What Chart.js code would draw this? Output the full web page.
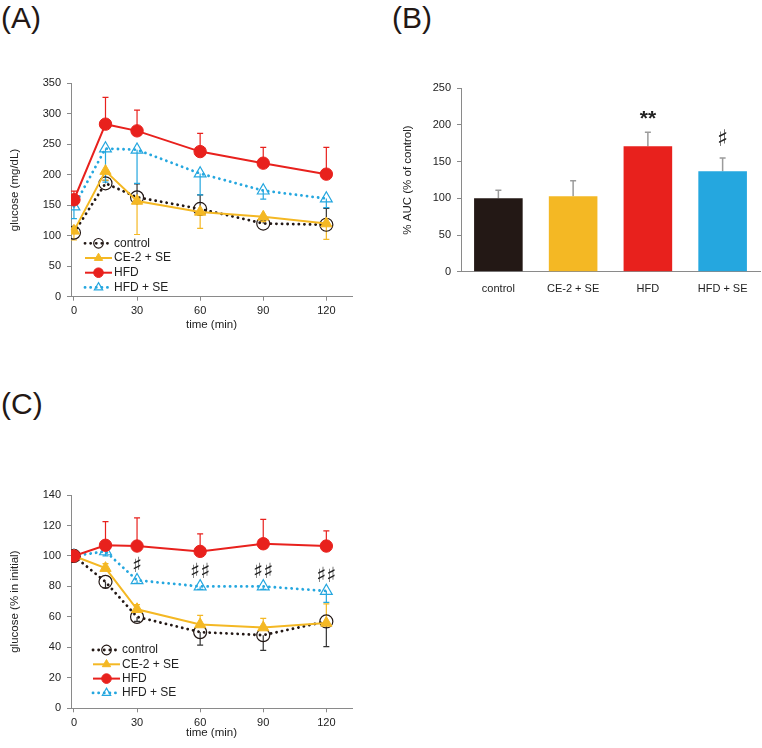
<!DOCTYPE html>
<html>
<head>
<meta charset="utf-8">
<title>Glucose tolerance</title>
<script src="https://cdn.jsdelivr.net/npm/chart.js@4.4.0/dist/chart.umd.min.js"></script>
<style>
  body { margin: 0; background: #fff; width: 762px; height: 748px; position: relative; overflow: hidden;
         font-family: 'Liberation Sans', Arial, sans-serif; }
  .tag { position: absolute; font-size: 30px; line-height: 1; color: #231815; }
  .box { position: absolute; }
</style>
</head>
<body>
<div class="tag" style="left:1px;top:3px">(A)</div>
<div class="tag" style="left:392px;top:3px">(B)</div>
<div class="tag" style="left:1px;top:389px">(C)</div>

<div class="box" style="left:0;top:60px;width:360px;height:275px"><canvas id="chartA"></canvas></div>
<div class="box" style="left:390px;top:60px;width:372px;height:250px"><canvas id="chartB"></canvas></div>
<div class="box" style="left:0;top:450px;width:360px;height:298px"><canvas id="chartC"></canvas></div>

<script>
// time points and tick labels
const times = [0, 15, 30, 60, 90, 120];
const timeTicks = [0, 30, 60, 90, 120];
const groupNames = ['control', 'CE-2 + SE', 'HFD', 'HFD + SE'];

// (A) blood glucose, mg/dL
const aTicks = [0, 50, 100, 150, 200, 250, 300, 350];
const aControl = [105, 186, 163, 144, 120, 118];
const aControlErr = [5, 5, 22, 23, 5, 27];      // upper
const aCE = [108, 206, 157, 139, 131, 120];
const aCEErr = [15, 15, 55, 27, 8, 26];         // lower
const aHFD = [159, 283, 272, 238, 219, 201];
const aHFDErr = [14, 44, 34, 30, 26, 44];       // upper
const aHS = [148, 243, 241, 202, 174, 161];
const aHSErr = [20, 55, 55, 35, 14, 15];        // lower

// (B) AUC, % of control
const bTicks = [0, 50, 100, 150, 200, 250];
const auc = [100, 103, 171, 137];
const aucErr = [11, 21, 19, 18];
const aucMarks = ['', '', '**', '♯'];

// (C) glucose, % of initial
const cTicks = [0, 20, 40, 60, 80, 100, 120, 140];
const cControl = [100, 83, 60, 50, 48, 57];
const cControlErr = [0, 4, 3, 8.5, 10, 16.5];   // lower
const cCE = [100, 92, 65, 55, 53, 56];
const cCEErr = [0, 3, 3, 6, 6, 12.5];           // upper
const cHFD = [100, 107, 106.5, 103, 108, 106.5];
const cHFDErr = [0, 15.5, 18.5, 11.5, 16, 10];  // upper
const cHS = [100, 103, 84, 80, 80, 77];
const cHSErr = [0, 3, 2, 2, 2, 7.5];            // lower
const cMarks = ['', '', '♯', '♯♯', '♯♯', '♯♯'];

const FONT = "'Liberation Sans', Arial, sans-serif";
const TEXT = '#222';
const AXIS = '#8a8a8a';
const COLORS = { control: '#231815', ce: '#f4b824', hfd: '#e8211d', hs: '#25a7df' };

// vertical error bars, one side only
const errorBars = {
  id: 'errorBars',
  beforeDatasetsDraw(chart) {
    const ctx = chart.ctx, ys = chart.scales.y;
    chart.data.datasets.forEach((ds, i) => {
      if (!ds.errors) return;
      const meta = chart.getDatasetMeta(i);
      meta.data.forEach((el, j) => {
        const e = ds.errors[j];
        if (!e) return;
        const v = ds.values[j];
        const y0 = ys.getPixelForValue(v);
        const y1 = ys.getPixelForValue(v + ds.errSide * e);
        ctx.save();
        ctx.strokeStyle = ds.errColor;
        ctx.lineWidth = ds.errWidth || 1.2;
        ctx.beginPath();
        ctx.moveTo(el.x, y0);
        ctx.lineTo(el.x, y1);
        ctx.moveTo(el.x - 3, y1);
        ctx.lineTo(el.x + 3, y1);
        ctx.stroke();
        ctx.restore();
      });
    });
  },
  afterDatasetsDraw(chart) {
    // significance marks
    const ctx = chart.ctx, ys = chart.scales.y;
    chart.data.datasets.forEach((ds, i) => {
      if (!ds.marks) return;
      const meta = chart.getDatasetMeta(i);
      meta.data.forEach((el, j) => {
        const m = ds.marks[j];
        if (!m) return;
        const e = ds.errors ? ds.errors[j] : 0;
        const top = ds.values[j] + (ds.errSide > 0 ? e : 0);
        const star = m.indexOf('*') >= 0;
        ctx.save();
        ctx.fillStyle = TEXT;
        ctx.font = star ? ds.starFont : ds.markFont;
        ctx.textAlign = 'center';
        ctx.textBaseline = 'middle';
        ctx.fillText(m, el.x, ys.getPixelForValue(top) - (star ? ds.starGap : ds.markGap));
        ctx.restore();
      });
    });
  }
};

function marker(ctx, style, r, x, y, bw) {
  if (Chart.helpers && Chart.helpers.drawPoint) {
    Chart.helpers.drawPoint(ctx, { pointStyle: style, radius: r, rotation: 0, borderWidth: bw }, x, y);
    return;
  }
  ctx.beginPath();
  if (style === 'triangle') {
    ctx.moveTo(x, y - r);
    ctx.lineTo(x + r * 0.866, y + r / 2);
    ctx.lineTo(x - r * 0.866, y + r / 2);
    ctx.closePath();
  } else {
    ctx.arc(x, y, r, 0, Math.PI * 2);
  }
  ctx.fill();
  ctx.stroke();
}

// legend drawn inside the plot
const insideLegend = {
  id: 'insideLegend',
  afterDraw(chart, args, opts) {
    if (opts.x === undefined) return;
    const ctx = chart.ctx;
    chart.data.datasets.forEach((ds, i) => {
      const y = opts.y + i * opts.rowH;
      ctx.save();
      ctx.strokeStyle = ds.borderColor;
      ctx.lineWidth = ds.borderWidth;
      ctx.lineCap = ds.borderCapStyle || 'butt';
      ctx.setLineDash(ds.borderDash || []);
      ctx.beginPath();
      ctx.moveTo(opts.x, y);
      ctx.lineTo(opts.x + opts.lineW, y);
      ctx.stroke();
      ctx.setLineDash([]);
      ctx.lineCap = 'butt';
      ctx.fillStyle = ds.pointBackgroundColor;
      ctx.strokeStyle = ds.pointBorderColor;
      ctx.lineWidth = ds.pointBorderWidth;
      marker(ctx, ds.pointStyle, opts.r, opts.x + opts.lineW / 2, y, ds.pointBorderWidth);
      ctx.fillStyle = TEXT;
      ctx.font = '12px ' + FONT;
      ctx.textAlign = 'left';
      ctx.textBaseline = 'middle';
      ctx.fillText(ds.label, opts.x + opts.lineW + 2, y);
      ctx.restore();
    });
  }
};

function lineSet(label, vals, errs, side, kind, order) {
  const st = {
    control: { color: COLORS.control, dash: [0.1, 5.5], width: 2.8, cap: 'round', style: 'circle',
               fill: 'rgba(0,0,0,0)', border: '#231815', bw: 1.2, r: 6.5, err: '#333' },
    ce: { color: COLORS.ce, dash: [], width: 2, cap: 'butt', style: 'triangle',
          fill: COLORS.ce, border: COLORS.ce, bw: 1, r: 6.5, err: COLORS.ce },
    hfd: { color: COLORS.hfd, dash: [], width: 2, cap: 'butt', style: 'circle',
           fill: COLORS.hfd, border: COLORS.hfd, bw: 1, r: 6.2, err: COLORS.hfd },
    hs: { color: COLORS.hs, dash: [0.1, 5.5], width: 2.8, cap: 'round', style: 'triangle',
          fill: 'rgba(0,0,0,0)', border: COLORS.hs, bw: 1.2, r: 6.8, err: COLORS.hs }
  }[kind];
  return {
    label: label,
    data: times.map((t, i) => ({ x: t, y: vals[i] })),
    values: vals,
    errors: errs,
    errSide: side,
    errColor: st.err,
    borderColor: st.color,
    borderWidth: st.width,
    borderDash: st.dash,
    borderCapStyle: st.cap,
    pointStyle: st.style,
    pointRadius: st.r,
    pointBackgroundColor: st.fill,
    pointBorderColor: st.border,
    pointBorderWidth: st.bw,
    tension: 0,
    order: order
  };
}

function timeAxis(height, titlePad) {
  return {
    type: 'linear', min: -1.4, max: 132.2,
    afterBuildTicks: s => { s.ticks = timeTicks.map(v => ({ value: v })); },
    afterFit: s => { s.height = height; },
    grid: { drawOnChartArea: false, tickLength: 4, color: AXIS },
    border: { color: AXIS },
    ticks: { color: TEXT, font: { family: FONT, size: 11 }, padding: 4, maxRotation: 0 },
    title: { display: true, text: 'time (min)', color: TEXT, font: { family: FONT, size: 11.5 },
             padding: { top: 0, bottom: titlePad } }
  };
}

function valueAxis(ticks, title, width, titlePad) {
  return {
    min: ticks[0], max: ticks[ticks.length - 1],
    afterBuildTicks: s => { s.ticks = ticks.map(v => ({ value: v })); },
    afterFit: s => { s.width = width; },
    grid: { drawOnChartArea: false, tickLength: 4, color: AXIS },
    border: { color: AXIS },
    ticks: { color: TEXT, font: { family: FONT, size: 11 }, padding: 6 },
    title: { display: true, text: title, color: TEXT, font: { family: FONT, size: 11.5 },
             padding: { top: titlePad, bottom: 0 } }
  };
}

function baseOptions(pad) {
  return {
    responsive: true,
    maintainAspectRatio: false,
    animation: false,
    events: [],
    layout: { padding: pad }
  };
}

// (A)
new Chart(document.getElementById('chartA'), {
  type: 'line',
  data: {
    datasets: [
      lineSet(groupNames[0], aControl, aControlErr, 1, 'control', 3),
      lineSet(groupNames[1], aCE, aCEErr, -1, 'ce', 1),
      lineSet(groupNames[2], aHFD, aHFDErr, 1, 'hfd', 0),
      lineSet(groupNames[3], aHS, aHSErr, -1, 'hs', 2)
    ]
  },
  options: Object.assign(baseOptions({ top: 23.3, right: 5, left: 0, bottom: 0 }), {
    scales: {
      x: timeAxis(38.3, 3),
      y: valueAxis(aTicks, 'glucose (mg/dL)', 71, 8)
    },
    plugins: {
      legend: { display: false },
      tooltip: { enabled: false },
      insideLegend: { x: 85, y: 183.3, rowH: 14.7, lineW: 27, r: 4.8 }
    }
  }),
  plugins: [errorBars, insideLegend]
});

// (B)
new Chart(document.getElementById('chartB'), {
  type: 'bar',
  data: {
    labels: groupNames,
    datasets: [{
      data: auc,
      values: auc,
      errors: aucErr,
      errSide: 1,
      errColor: '#9b9b9b',
      errWidth: 1.5,
      marks: aucMarks,
      markFont: "23px 'DejaVu Sans', " + FONT,
      markGap: 18,
      starFont: "bold 21px " + FONT,
      starGap: 13,
      backgroundColor: [COLORS.control, COLORS.ce, COLORS.hfd, COLORS.hs],
      borderWidth: 0,
      barPercentage: 0.65,
      categoryPercentage: 1
    }]
  },
  options: Object.assign(baseOptions({ top: 28.3, right: 2, left: 0, bottom: 0 }), {
    scales: {
      x: {
        afterFit: s => { s.height = 38.3; },
        grid: { display: false, drawTicks: false },
        border: { color: AXIS },
        ticks: { color: TEXT, font: { family: FONT, size: 11 }, padding: 11, maxRotation: 0, autoSkip: false }
      },
      y: valueAxis(bTicks, '% AUC (% of control)', 71, 11)
    },
    plugins: { legend: { display: false }, tooltip: { enabled: false } }
  }),
  plugins: [errorBars]
});

// (C)
const cSets = [
  lineSet(groupNames[0], cControl, cControlErr, -1, 'control', 3),
  lineSet(groupNames[1], cCE, cCEErr, 1, 'ce', 1),
  lineSet(groupNames[2], cHFD, cHFDErr, 1, 'hfd', 0),
  lineSet(groupNames[3], cHS, cHSErr, -1, 'hs', 2)
];
cSets[3].marks = cMarks;
cSets[3].markFont = "21px 'DejaVu Sans', " + FONT;
cSets[3].markGap = 14;

new Chart(document.getElementById('chartC'), {
  type: 'line',
  data: { datasets: cSets },
  options: Object.assign(baseOptions({ top: 45, right: 5, left: 0, bottom: 0 }), {
    scales: {
      x: timeAxis(39.7, 8.5),
      y: valueAxis(cTicks, 'glucose (% in initial)', 71, 8)
    },
    plugins: {
      legend: { display: false },
      tooltip: { enabled: false },
      insideLegend: { x: 93, y: 200, rowH: 14.3, lineW: 27, r: 4.8 }
    }
  }),
  plugins: [errorBars, insideLegend]
});
</script>
</body>
</html>
